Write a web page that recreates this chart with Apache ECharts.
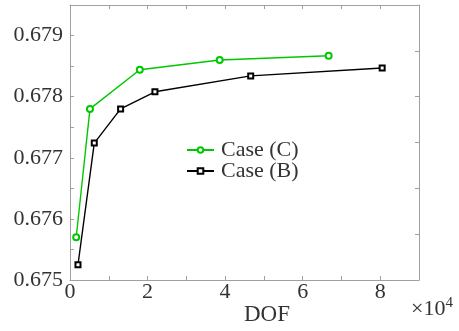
<!DOCTYPE html>
<html>
<head>
<meta charset="utf-8">
<script src="https://cdn.jsdelivr.net/npm/echarts@6/dist/echarts.min.js"></script>
<style>html,body{margin:0;padding:0;background:#fff;}#chart{width:459px;height:331px;}</style>
</head>
<body>
<div id="chart"></div>
<script>
var seriesNames = ['Case (C)', 'Case (B)'];
var caseC_dof = [0.16, 0.515, 1.80, 3.86, 6.67];
var caseC_val = [0.6757, 0.6778, 0.67844, 0.6786, 0.67867];
var caseB_dof = [0.206, 0.626, 1.305, 2.19, 4.66, 8.05];
var caseB_val = [0.67525, 0.67724, 0.6778, 0.67808, 0.67834, 0.67847];
var xTickLabels = ['0', '2', '4', '6', '8'];
var yTickLabels = ['0.675', '0.676', '0.677', '0.678', '0.679'];

function pairs(xs, ys) { return xs.map(function (x, i) { return [x, ys[i]]; }); }

var FONT = 'Liberation Serif';
var AXIS_COLOR = '#a0a0a0';
var TEXT_COLOR = '#333';
var chart = echarts.init(document.getElementById('chart'), null, { renderer: 'canvas' });

var tickStyle = { show: true, inside: true, length: 4, lineStyle: { color: AXIS_COLOR, width: 1 } };
var lineStyleAxis = { show: true, onZero: false, lineStyle: { color: AXIS_COLOR, width: 1 } };

chart.setOption({
  animation: false,
  backgroundColor: '#fff',
  grid: { left: 70, right: 40, top: 5, bottom: 51, containLabel: false },
  legend: {
    orient: 'vertical',
    left: 181,
    top: 134,
    itemGap: -1,
    itemWidth: 27,
    itemHeight: 7,
    data: seriesNames,
    textStyle: { fontFamily: FONT, fontSize: 22, color: TEXT_COLOR, lineHeight: 20, padding: [0, 0, 0, 2] }
  },
  xAxis: [{
    type: 'value', position: 'bottom', min: 0, max: 9, interval: 1,
    axisLine: lineStyleAxis, axisTick: tickStyle, splitLine: { show: false },
    axisLabel: {
      margin: 1, fontFamily: FONT, fontSize: 22, color: TEXT_COLOR,
      formatter: function (v) { var i = xTickLabels.indexOf(String(v)); return i >= 0 ? xTickLabels[i] : ''; }
    }
  }, {
    type: 'value', position: 'top', min: 0, max: 9, interval: 1,
    axisLine: lineStyleAxis, axisTick: tickStyle, splitLine: { show: false }, axisLabel: { show: false }
  }],
  yAxis: [{
    type: 'value', position: 'left', min: 0.675, max: 0.6795, interval: 0.0005,
    axisLine: lineStyleAxis, axisTick: tickStyle, splitLine: { show: false },
    axisLabel: {
      margin: 7, fontFamily: FONT, fontSize: 22, color: TEXT_COLOR,
      formatter: function (v) { var s = v.toFixed(3); var r = Math.abs(v * 1000 - Math.round(v * 1000)) < 1e-6; return (r && yTickLabels.indexOf(s) >= 0) ? s : ''; }
    }
  }, {
    type: 'value', position: 'right', min: 0, max: 6, interval: 1,
    axisLine: lineStyleAxis, axisTick: tickStyle, splitLine: { show: false }, axisLabel: { show: false }
  }],
  graphic: [{
    type: 'text', left: 244, top: 303,
    style: { text: 'DOF', font: '23px "Liberation Serif"', fill: TEXT_COLOR }
  }, {
    type: 'text', left: 411, top: 296,
    style: {
      text: '{a|×10}{b|4}',
      rich: {
        a: { fontFamily: FONT, fontSize: 22, fill: TEXT_COLOR, verticalAlign: 'bottom' },
        b: { fontFamily: FONT, fontSize: 15, fill: TEXT_COLOR, verticalAlign: 'top', padding: [0, 0, 9, 0] }
      }
    }
  }],
  series: [{
    name: seriesNames[0], type: 'line', xAxisIndex: 0, yAxisIndex: 0,
    data: pairs(caseC_dof, caseC_val),
    symbol: 'emptyCircle', symbolSize: 6,
    lineStyle: { color: '#00c800', width: 1.4 },
    itemStyle: { color: '#00c800', borderWidth: 1.3 }
  }, {
    name: seriesNames[1], type: 'line', xAxisIndex: 0, yAxisIndex: 0,
    data: pairs(caseB_dof, caseB_val),
    symbol: 'emptyRect', symbolSize: 5,
    lineStyle: { color: '#000', width: 1.4 },
    itemStyle: { color: '#000', borderWidth: 1.3 }
  }]
});
</script>
</body>
</html>
